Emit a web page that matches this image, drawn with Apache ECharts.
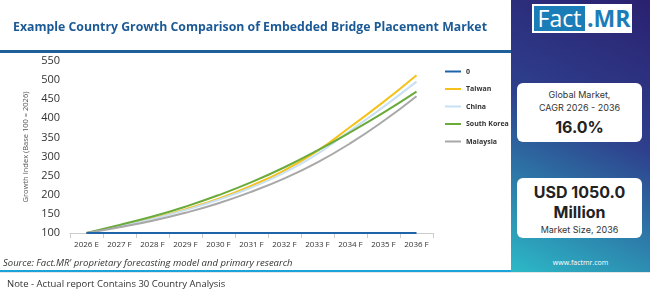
<!DOCTYPE html>
<html><head><meta charset="utf-8">
<script src="https://cdn.jsdelivr.net/npm/echarts@6/dist/echarts.min.js"></script>
<style>
html,body{margin:0;padding:0;background:#fff;}
#wrap{position:relative;width:650px;height:297px;overflow:hidden;font-family:"Open Sans",sans-serif;}
#chart{position:absolute;left:0;top:0;width:650px;height:297px;}
#topline{position:absolute;left:0;top:50px;width:512px;height:3px;background:#1f5f9a;}
#panel{position:absolute;left:511px;top:0;width:139px;height:272px;background:linear-gradient(205deg,#2a2170 0%,#2e3f8c 45%,#2cb9c7 100%);}
#logo{position:absolute;left:21px;top:4px;width:100px;height:29px;background:#fff;}
#logo .f{position:absolute;left:2px;top:2px;width:51px;height:25px;background:#1b7db8;color:#fff;font-size:23px;line-height:25px;text-align:center;font-family:"Open Sans",sans-serif;}
#logo .m{position:absolute;left:55px;top:2px;height:25px;color:#1b7db8;font-size:23px;line-height:25px;font-weight:700;font-family:"Open Sans",sans-serif;}
.card{position:absolute;left:6px;width:125px;background:#fff;border-radius:6px;text-align:center;color:#333;font-family:Inter,"Open Sans",sans-serif;}
#c1{top:83px;height:59px;}
#c2{top:178px;height:60px;}
.sm{font-size:9px;line-height:13px;}
.big{font-size:16px;font-weight:700;color:#222;line-height:20px;}
#www{position:absolute;left:0;width:139px;top:258px;text-align:center;color:#fff;font-size:7px;}
#src{position:absolute;left:3px;top:256px;font-size:9.5px;font-style:italic;color:#333;}
#botline{position:absolute;left:0;top:270px;width:511px;height:2px;background:#1ba3dc;}
#note{position:absolute;left:7px;top:277px;font-size:9.5px;color:#333;}
#frame{position:absolute;left:0;top:272px;width:650px;height:25px;border-top:1px solid #e6e6e6;box-sizing:border-box;}
</style></head>
<body><div id="wrap">
<div id="chart"></div>
<div id="topline"></div>
<div id="frame"></div>
<div id="panel">
  <div id="logo"><div class="f">Fact</div><div class="m">.MR</div></div>
  <div class="card" id="c1"><div class="sm" style="margin-top:5px">Global Market,</div><div class="sm">CAGR 2026 - 2036</div><div class="big" style="margin-top:3px">16.0%</div></div>
  <div class="card" id="c2"><div class="big" style="margin-top:4px">USD 1050.0</div><div class="big">Million</div><div class="sm" style="margin-top:1px">Market Size, 2036</div></div>
  <div id="www">www.factmr.com</div>
</div>
<div id="src">Source: Fact.MR' proprietary forecasting model and primary research</div>
<div id="botline"></div>
<div id="note">Note - Actual report Contains 30 Country Analysis</div>
</div>
<script>
const years = ["2026 E","2027 F","2028 F","2029 F","2030 F","2031 F","2032 F","2033 F","2034 F","2035 F","2036 F"];
const zeroSeries = [100,100,100,100,100,100,100,100,100,100,100];
const taiwan = [100,118,138,162,190,224,264,315,378,443,513];
const china = [100,118,137,160,187,219,258,307,368,430,496];
const southKorea = [100,121,143,169,199,233,272,316,364,415,470];
const malaysia = [100,115,132,153,178,208,243,285,335,393,458];
const yTicks = {min:100,max:550,interval:50};
const seriesNames = ["0","Taiwan","China","South Korea","Malaysia"];
const seriesColors = ["#1f64a8","#f5c21b","#c9e0f3","#6aab3c","#a8a8a8"];
const seriesData = [zeroSeries,taiwan,china,southKorea,malaysia];

const chart = echarts.init(document.getElementById('chart'));
chart.setOption({
  animation:false,
  title:{text:"Example Country Growth Comparison of Embedded Bridge Placement Market",left:8,top:16,
    textStyle:{fontFamily:"Open Sans",fontWeight:700,fontSize:12.3,color:"#1c5a96"}},
  legend:{orient:'vertical',left:440,top:63,itemWidth:16,itemHeight:2,itemGap:10.5,icon:'rect',
    data:seriesNames,textStyle:{fontSize:7,fontWeight:700,color:"#333",fontFamily:"Open Sans"}},
  grid:{left:70,right:217,top:61,bottom:64},
  xAxis:{type:'category',data:years,boundaryGap:true,
    axisLine:{lineStyle:{color:"#ccc"}},axisTick:{show:true,lineStyle:{color:"#ccc"}},
    axisLabel:{interval:0,fontSize:8,color:"#333",fontFamily:"Open Sans",margin:8}},
  yAxis:{type:'value',min:yTicks.min,max:yTicks.max,interval:yTicks.interval,
    name:"Growth Index (Base 100 = 2026)",nameLocation:'middle',nameGap:33,
    nameTextStyle:{fontSize:7.5,color:"#555",fontFamily:"Open Sans"},
    axisLine:{show:false},axisTick:{show:false},splitLine:{show:false},
    axisLabel:{fontSize:11,color:"#333",fontFamily:"Open Sans",margin:10}},
  series:seriesData.map((d,i)=>({name:seriesNames[i],type:'line',data:d,smooth:true,symbol:'none',
    z: i===0?5:3,
    lineStyle:{width:2,color:seriesColors[i]},itemStyle:{color:seriesColors[i]}}))
});
</script>
</body></html>
